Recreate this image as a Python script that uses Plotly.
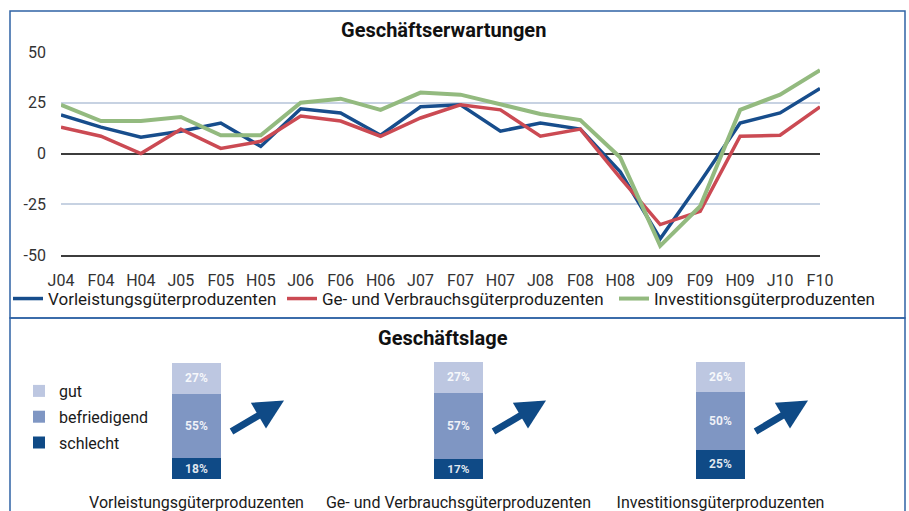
import plotly.graph_objects as go

# ---------------- data ----------------
periods = ["J04", "F04", "H04", "J05", "F05", "H05", "J06", "F06", "H06", "J07",
           "F07", "H07", "J08", "F08", "H08", "J09", "F09", "H09", "J10", "F10"]
vorleistung = [19, 13, 8, 11, 15, 3.5, 22, 20, 9, 23, 24, 11, 15, 12, -9, -42, -14, 15, 20, 32]
verbrauch = [13, 8.5, 0, 12, 2.5, 6, 18.5, 16, 8.5, 17.5, 24, 21.5, 8.5, 12, -12, -35, -28.5, 8.5, 9, 23]
investition = [24, 16, 16, 18, 9, 9, 25, 27, 21.5, 30, 29, 24.5, 19.5, 16.5, -2, -45.5, -26, 21.5, 29, 41]
y_tickvals = [50, 25, 0, -25, -50]
y_ticktext = ["50", "25", "0", "-25", "-50"]

firms = ["Vorleistungsgüterproduzenten", "Ge- und Verbrauchsgüterproduzenten",
         "Investitionsgüterproduzenten"]
schlecht = [18, 17, 25]
befriedigend = [55, 57, 50]
gut = [27, 27, 26]

# ---------------- style ----------------
W, H = 909, 511
FONT = "Roboto"
BLUE = "#174d8c"
RED = "#cb4a53"
GREEN = "#93ba7f"
DARK = "#0f4a86"
MID = "#7f96c3"
LIGHT = "#bdc7e1"
BORDER = "#2f63a5"


def px(x):
    return x / W


def py(y):
    return 1 - y / H


fig = go.Figure()

fig.add_trace(go.Scatter(x=periods, y=vorleistung, name="Vorleistungsgüterproduzenten",
                         mode="lines", line=dict(color=BLUE, width=3.5), legend="legend"))
fig.add_trace(go.Scatter(x=periods, y=verbrauch, name="Ge- und Verbrauchsgüterproduzenten",
                         mode="lines", line=dict(color=RED, width=3.5), legend="legend2"))
fig.add_trace(go.Scatter(x=periods, y=investition, name="Investitionsgüterproduzenten",
                         mode="lines", line=dict(color=GREEN, width=4), legend="legend3"))

for rank, (name, vals, color) in zip([3, 2, 1], [("schlecht", schlecht, DARK),
                                                  ("befriedigend", befriedigend, MID),
                                                  ("gut", gut, LIGHT)]):
    fig.add_trace(go.Bar(
        x=firms, y=vals, name=name, marker=dict(color=color, line=dict(width=0)),
        xaxis="x2", yaxis="y2", width=0.187,
        text=[f"<b>{v}%</b>" for v in vals], textposition="inside", insidetextanchor="middle",
        textfont=dict(color="rgba(255,255,255,0.88)", size=12, family=FONT),
        legend="legend4", legendgroup=name, legendrank=rank, hoverinfo="skip"))

leg_common = dict(orientation="h", xanchor="left", yanchor="middle",
                  bgcolor="rgba(0,0,0,0)", font=dict(size=17, color="#1a1a1a", family=FONT))

fig.update_layout(
    width=W, height=H,
    margin=dict(l=0, r=0, t=0, b=0, pad=0, autoexpand=False),
    paper_bgcolor="white", plot_bgcolor="white",
    font=dict(family=FONT, color="#222"),
    barmode="stack",
    xaxis=dict(domain=[px(61), px(820)], anchor="y", type="category",
               range=[0, len(periods) - 1], showgrid=False,
               showline=True, linecolor="#3c3c3c", linewidth=1.5,
               ticks="", ticklabelstandoff=10,
               tickfont=dict(size=16, color="#333", family=FONT)),
    yaxis=dict(domain=[py(255), py(52)], anchor="x", range=[-50, 50],
               tickvals=y_tickvals, ticktext=y_ticktext,
               showgrid=True, gridcolor="#c7d2e2", gridwidth=1.5,
               zeroline=True, zerolinecolor="#3c3c3c", zerolinewidth=1.5,
               ticks="", ticklabelstandoff=14,
               tickfont=dict(size=16, color="#333", family=FONT)),
    xaxis2=dict(domain=[px(65.5), px(851.5)], anchor="y2", showgrid=False,
                showline=False, zeroline=False, ticks="", ticklabelstandoff=12,
                tickfont=dict(size=16, color="#1a1a1a", family=FONT)),
    yaxis2=dict(domain=[py(479), py(362)], anchor="x2", range=[0, 100.5], visible=False),
    legend=dict(x=px(8), y=py(299), **leg_common),
    legend2=dict(x=px(282), y=py(299), **leg_common),
    legend3=dict(x=px(614), y=py(299), **leg_common),
    legend4=dict(x=px(19), y=py(374), xanchor="left", yanchor="top",
                 orientation="v", traceorder="grouped", tracegroupgap=2,
                 bgcolor="rgba(0,0,0,0)",
                 font=dict(size=16, color="#1a1a1a", family=FONT)),
    showlegend=True,
)

# panel borders
fig.add_shape(type="rect", xref="paper", yref="paper",
              x0=px(10), x1=px(905), y0=py(318), y1=py(11),
              line=dict(color=BORDER, width=1.5))
fig.add_shape(type="rect", xref="paper", yref="paper",
              x0=px(10), x1=px(905), y0=py(540), y1=py(318),
              line=dict(color=BORDER, width=1.5))

# titles
fig.add_annotation(text="<b>Geschäftserwartungen</b>", xref="paper", yref="paper",
                   x=px(443), y=py(30), xanchor="center", yanchor="middle", showarrow=False,
                   font=dict(size=20, color="#111", family=FONT))
fig.add_annotation(text="<b>Geschäftslage</b>", xref="paper", yref="paper",
                   x=px(443), y=py(338), xanchor="center", yanchor="middle", showarrow=False,
                   font=dict(size=20, color="#111", family=FONT))

# trend arrows next to each bar
for i in range(len(firms)):
    fig.add_annotation(x=i + 0.334, y=67.5, xref="x2", yref="y2", text="",
                       showarrow=True, ax=-54, ay=32, arrowhead=2, arrowsize=0.85,
                       arrowwidth=7, arrowcolor=DARK, standoff=0, startstandoff=0)

fig.write_html("out.html", config={"displayModeBar": False},
               post_script="document.body.style.margin='0';document.body.style.overflow='hidden';")
